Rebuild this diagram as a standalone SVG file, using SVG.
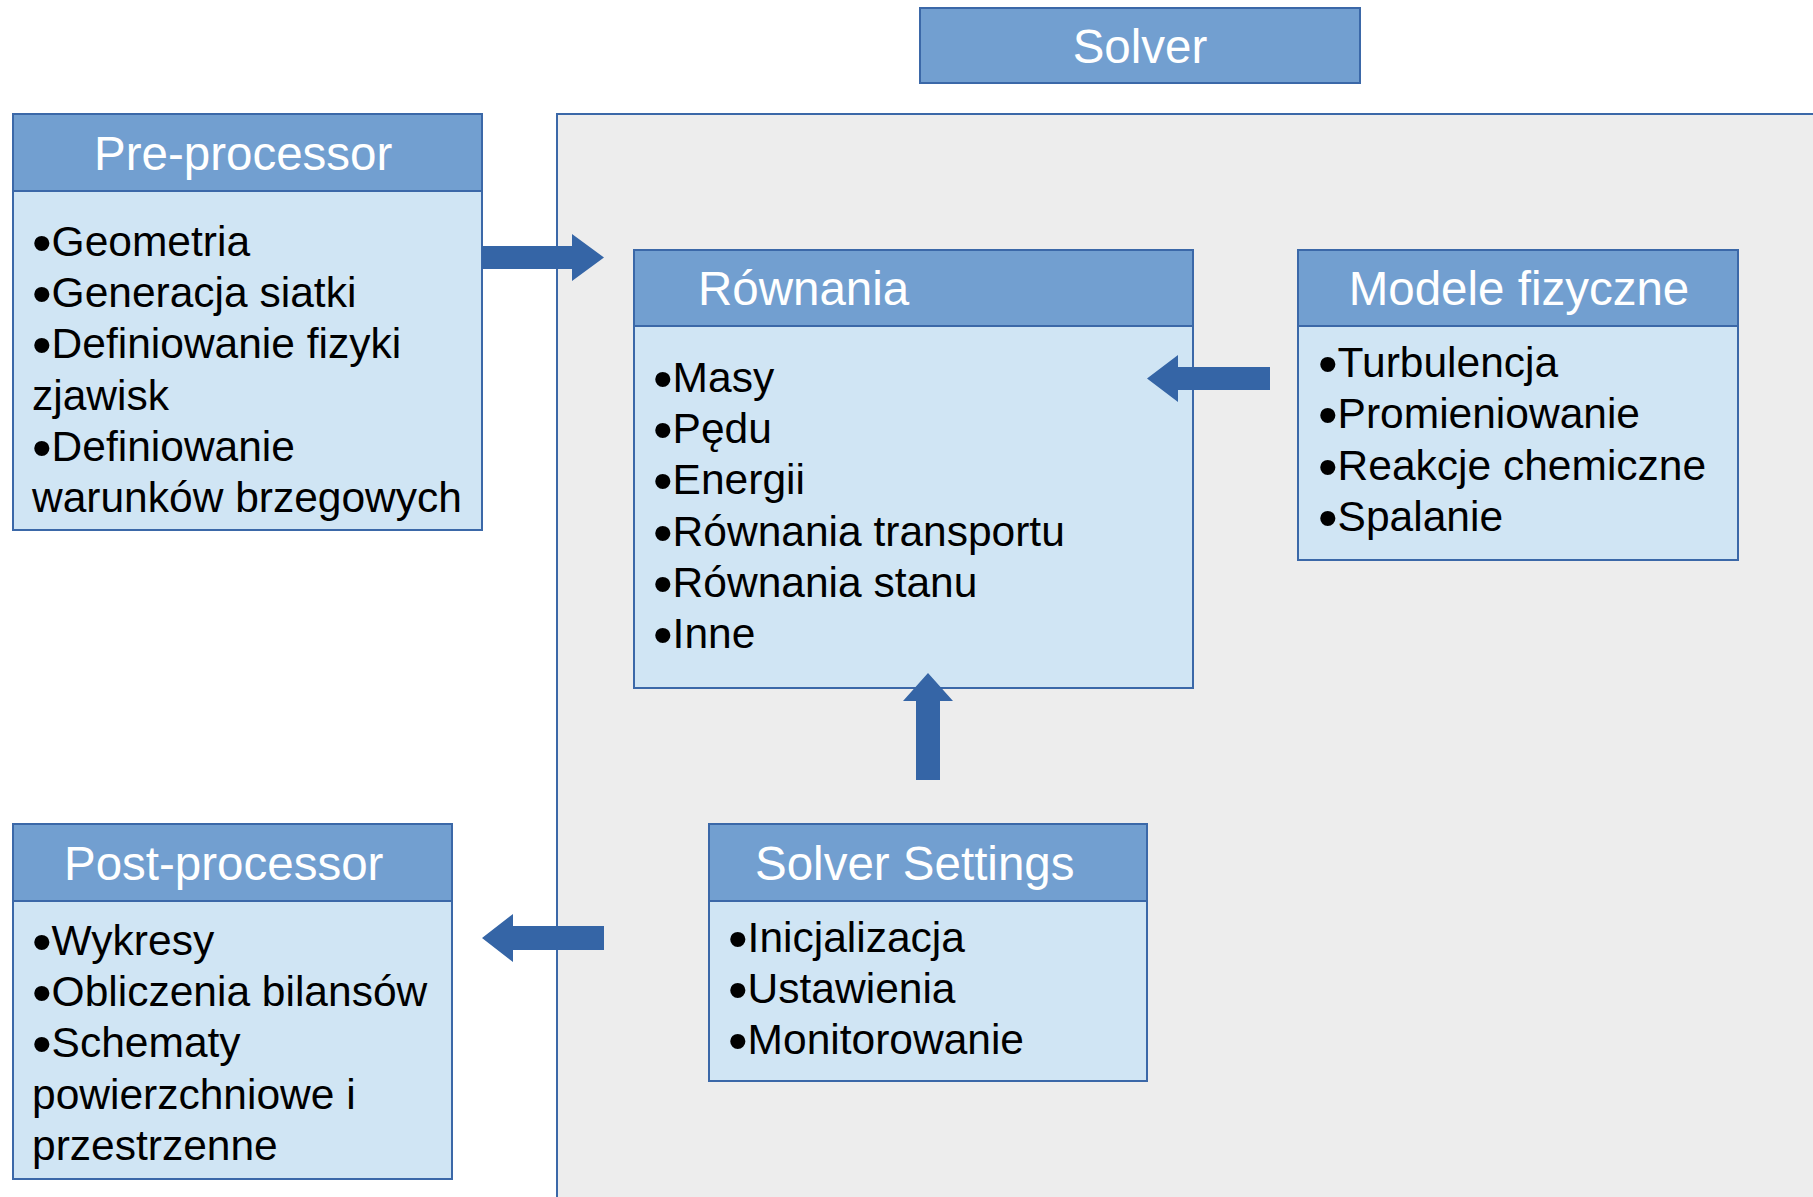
<svg xmlns="http://www.w3.org/2000/svg" width="1813" height="1197" viewBox="0 0 1813 1197">
<style>
.hd{fill:#729FD0;stroke:#3B68A8;stroke-width:2}
.bd{fill:#D0E5F4;stroke:#3B68A8;stroke-width:2}
.ht{font-family:"Liberation Sans",Arial,sans-serif;font-size:47.5px;fill:#FFFFFF}
.bt{font-family:"Liberation Sans",Arial,sans-serif;font-size:42.5px;fill:#000000}
.b{font-size:56px}
.ar{fill:#3565A6}
</style>
<rect width="1813" height="1197" fill="#FFFFFF"/>
<rect id="panel" x="557" y="114" width="1260" height="1090" fill="#EDEDED" stroke="#3B68A8" stroke-width="2"/>
<g id="solver-title">
<rect class="hd" x="920" y="8" width="440" height="75"/>
<text class="ht" x="1140" y="63" text-anchor="middle">Solver</text>
</g>
<g id="pre-processor">
<rect class="hd" x="13" y="114" width="469" height="77"/>
<rect class="bd" x="13" y="191" width="469" height="339"/>
<text class="ht" x="94" y="170">Pre-processor</text>
<text class="bt" x="32" y="256"><tspan class="b" dy="6">•</tspan><tspan dy="-6">Geometria</tspan></text>
<text class="bt" x="32" y="307"><tspan class="b" dy="6">•</tspan><tspan dy="-6">Generacja siatki</tspan></text>
<text class="bt" x="32" y="358"><tspan class="b" dy="6">•</tspan><tspan dy="-6">Definiowanie fizyki</tspan></text>
<text class="bt" x="32" y="410">zjawisk</text>
<text class="bt" x="32" y="461"><tspan class="b" dy="6">•</tspan><tspan dy="-6">Definiowanie</tspan></text>
<text class="bt" x="32" y="512">warunków brzegowych</text>
</g>
<g id="rownania">
<rect class="hd" x="634" y="250" width="559" height="76"/>
<rect class="bd" x="634" y="326" width="559" height="362"/>
<text class="ht" x="698" y="305">Równania</text>
<text class="bt" x="653" y="392"><tspan class="b" dy="6">•</tspan><tspan dy="-6">Masy</tspan></text>
<text class="bt" x="653" y="443"><tspan class="b" dy="6">•</tspan><tspan dy="-6">Pędu</tspan></text>
<text class="bt" x="653" y="494"><tspan class="b" dy="6">•</tspan><tspan dy="-6">Energii</tspan></text>
<text class="bt" x="653" y="546"><tspan class="b" dy="6">•</tspan><tspan dy="-6">Równania transportu</tspan></text>
<text class="bt" x="653" y="597"><tspan class="b" dy="6">•</tspan><tspan dy="-6">Równania stanu</tspan></text>
<text class="bt" x="653" y="648"><tspan class="b" dy="6">•</tspan><tspan dy="-6">Inne</tspan></text>
</g>
<g id="modele-fizyczne">
<rect class="hd" x="1298" y="250" width="440" height="76"/>
<rect class="bd" x="1298" y="326" width="440" height="234"/>
<text class="ht" x="1519" y="305" text-anchor="middle">Modele fizyczne</text>
<text class="bt" x="1318" y="377"><tspan class="b" dy="6">•</tspan><tspan dy="-6">Turbulencja</tspan></text>
<text class="bt" x="1318" y="428"><tspan class="b" dy="6">•</tspan><tspan dy="-6">Promieniowanie</tspan></text>
<text class="bt" x="1318" y="480"><tspan class="b" dy="6">•</tspan><tspan dy="-6">Reakcje chemiczne</tspan></text>
<text class="bt" x="1318" y="531"><tspan class="b" dy="6">•</tspan><tspan dy="-6">Spalanie</tspan></text>
</g>
<g id="solver-settings">
<rect class="hd" x="709" y="824" width="438" height="77"/>
<rect class="bd" x="709" y="901" width="438" height="180"/>
<text class="ht" x="755" y="880">Solver Settings</text>
<text class="bt" x="728" y="952"><tspan class="b" dy="6">•</tspan><tspan dy="-6">Inicjalizacja</tspan></text>
<text class="bt" x="728" y="1003"><tspan class="b" dy="6">•</tspan><tspan dy="-6">Ustawienia</tspan></text>
<text class="bt" x="728" y="1054"><tspan class="b" dy="6">•</tspan><tspan dy="-6">Monitorowanie</tspan></text>
</g>
<g id="post-processor">
<rect class="hd" x="13" y="824" width="439" height="77"/>
<rect class="bd" x="13" y="901" width="439" height="278"/>
<text class="ht" x="64" y="880">Post-processor</text>
<text class="bt" x="32" y="955"><tspan class="b" dy="6">•</tspan><tspan dy="-6">Wykresy</tspan></text>
<text class="bt" x="32" y="1006"><tspan class="b" dy="6">•</tspan><tspan dy="-6">Obliczenia bilansów</tspan></text>
<text class="bt" x="32" y="1057"><tspan class="b" dy="6">•</tspan><tspan dy="-6">Schematy</tspan></text>
<text class="bt" x="32" y="1109">powierzchniowe i</text>
<text class="bt" x="32" y="1160">przestrzenne</text>
</g>
<g id="connectors">
<polygon class="ar" points="482,246 572,246 572,234 604,257.5 572,281 572,269 482,269"/>
<polygon class="ar" points="1270,367 1178,367 1178,355 1147,378.5 1178,402 1178,390 1270,390"/>
<polygon class="ar" points="916,780 916,701 903,701 928,673 953,701 940,701 940,780"/>
<polygon class="ar" points="604,926 513,926 513,914 482,938 513,962 513,950 604,950"/>
</g>
</svg>
